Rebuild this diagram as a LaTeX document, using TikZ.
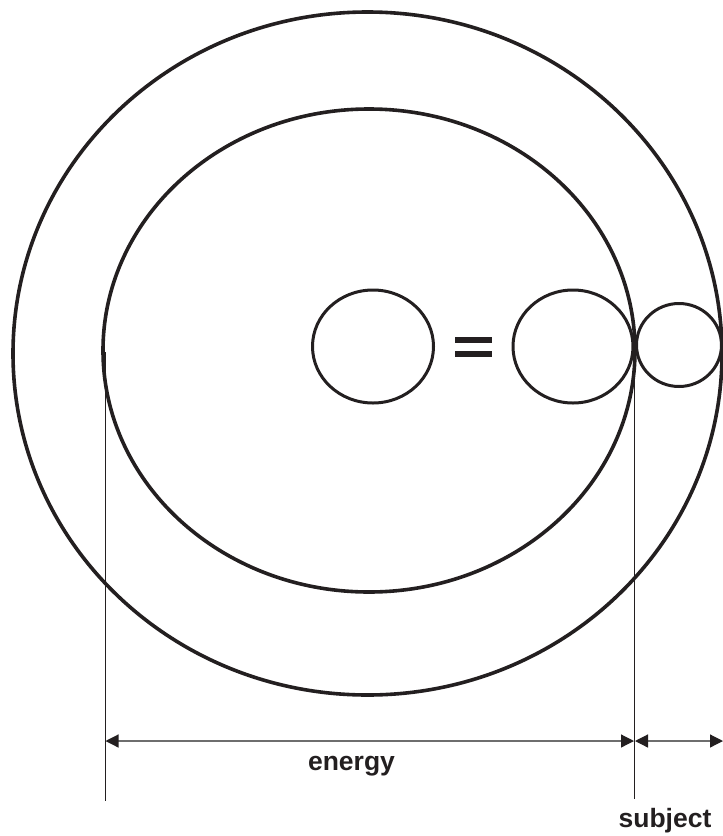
\documentclass[tikz,border=0pt]{standalone}
\usepackage{fontspec}
\setmainfont{Liberation Sans}
\usetikzlibrary{arrows.meta}
\definecolor{ink}{RGB}{35,31,32}
\definecolor{dimgray}{RGB}{110,110,110}
\tikzset{
  bigring/.style={draw=ink, line width=3.6pt},
  smallring/.style={draw=ink, line width=3pt},
  extline/.style={draw=ink, line width=1pt},
  dimline/.style={draw=dimgray, line width=1.2pt,
    {Triangle[length=13pt,width=13pt,fill=ink,color=ink]}-{Triangle[length=13pt,width=13pt,fill=ink,color=ink]}},
  lbl/.style={font=\fontsize{26.5}{30}\selectfont\bfseries, text=ink, inner sep=0pt, anchor=base}
}
\begin{document}
\begin{tikzpicture}[x=1pt,y=-1pt]
\useasboundingbox (0,0) rectangle (723,836);
% rings
\draw[bigring] (367.5,353.5) ellipse [x radius=354.5, y radius=341.5];
\draw[bigring] (369,350.5) ellipse [x radius=266, y radius=241.5];
% small circles
\draw[smallring] (373,346.5) ellipse [x radius=60.5, y radius=56.5];
\draw[smallring] (573,346.5) ellipse [x radius=60, y radius=56.5];
\draw[smallring] (679,345) ellipse [x radius=42.5, y radius=41.5];
% equals sign
\fill[ink] (455,337) rectangle (492,343);
\fill[ink] (455,351) rectangle (492,357);
% extension lines
\coordinate (lt) at (105,352);
\coordinate (lb) at (105,801);
\coordinate (rt) at (634.5,350);
\coordinate (rb) at (634.5,799);
\draw[extline] (lt) -- (lb);
\draw[extline] (rt) -- (rb);
% dimension arrows
\coordinate (a1) at (105.5,741);
\coordinate (a2) at (634,741);
\coordinate (b1) at (635,741);
\coordinate (b2) at (723,741);
\draw[dimline] (a1) -- (a2);
\draw[dimline] (b1) -- (b2);
% labels
\node[lbl] (energy) at (351.5,770) {energy};
\node[lbl] (subject) at (665,827) {subject};
\end{tikzpicture}
\end{document}
